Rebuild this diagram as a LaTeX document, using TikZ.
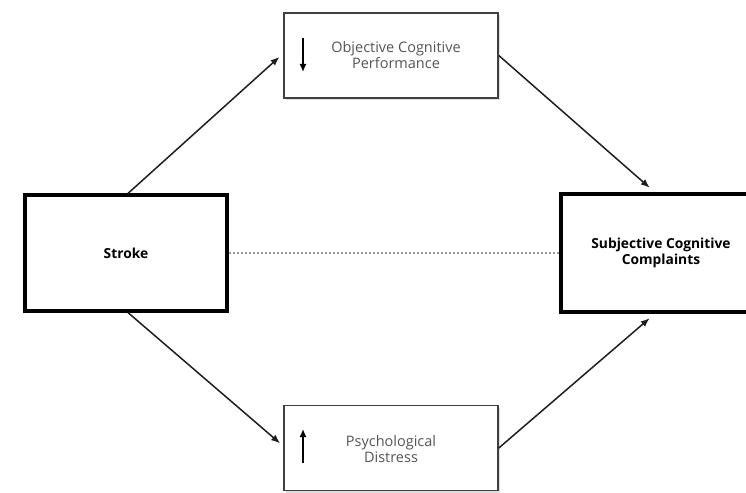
\documentclass[tikz,border=0pt]{standalone}
\usepackage{fontspec}
\setmainfont{Open Sans}
\usetikzlibrary{arrows.meta,shadows}
\definecolor{lineC}{HTML}{1E1E1E}
\definecolor{txtG}{HTML}{555555}
\tikzset{
  thinbox/.style={draw=lineC!85, line width=1.6pt, fill=white, inner sep=0pt,
    minimum width=214pt, minimum height=85pt, align=center,
    drop shadow={opacity=0.25, shadow xshift=2pt, shadow yshift=-2pt}},
  thickbox/.style={draw=black, line width=3.2pt, fill=white, inner sep=0pt,
    minimum height=116pt, align=center,
    drop shadow={opacity=0.25, shadow xshift=2pt, shadow yshift=-2pt}},
  conn/.style={draw=lineC, line width=1.5pt, -{Latex[length=9pt,width=7pt]}},
  dotline/.style={draw=gray!80, line width=1.2pt, dash pattern=on 2pt off 2pt},
  inarrow/.style={draw=black, line width=1.5pt, -{Latex[length=8pt,width=7pt]}},
  thintext/.style={font=\fontsize{14.5}{16}\selectfont, text=txtG, align=center, inner sep=0pt},
  boldtext/.style={font=\fontsize{13.8}{15.5}\selectfont\bfseries, text=black, align=center, inner sep=0pt}
}
\begin{document}
\begin{tikzpicture}[x=1pt,y=-1pt]
\useasboundingbox (0,0) rectangle (746,492);
\clip (0,0) rectangle (746,492);
\node[thickbox, minimum width=202pt] (stroke) at (126,253) {};
\node[boldtext] (strokeT) at (126,253) {Stroke};
\node[thickbox, minimum width=200pt, minimum height=118pt] (scc) at (661,253) {};
\node[boldtext] (sccT) at (661,253) {Subjective Cognitive\\Complaints};
\node[thinbox] (ocp) at (391,55.5) {};
\node[thintext] (ocpT) at (396,55) {Objective Cognitive\\Performance};
\node[thinbox] (pd) at (391,448) {};
\node[thintext] (pdT) at (391,449) {Psychological\\Distress};
\coordinate (ocpA1) at (303,38);
\coordinate (ocpA2) at (303,72);
\draw[inarrow] (ocpA1) -- (ocpA2);
\coordinate (pdA1) at (303,463);
\coordinate (pdA2) at (303,429);
\draw[inarrow] (pdA1) -- (pdA2);
\draw[dotline] (stroke.east) -- (scc.west);
\draw[conn, shorten >=5pt] ([xshift=2pt]stroke.north) -- ([yshift=2pt]ocp.west);
\draw[conn, shorten >=4pt] ([xshift=2pt]stroke.south) -- ([yshift=2pt]pd.west);
\draw[conn, shorten >=7pt] (ocp.east) -- ([xshift=-6pt]scc.north);
\draw[conn, shorten >=7pt] (pd.east) -- ([xshift=-6pt]scc.south);
\end{tikzpicture}
\end{document}
